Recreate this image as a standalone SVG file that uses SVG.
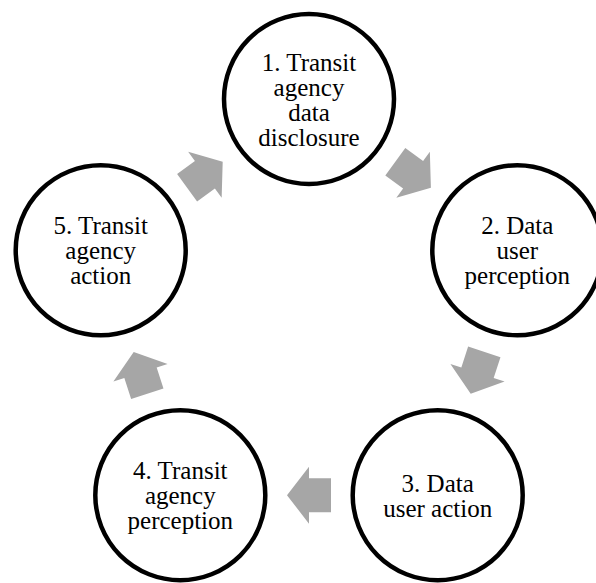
<svg xmlns="http://www.w3.org/2000/svg" width="596" height="583" viewBox="0 0 596 583">
  <style>
    .node circle { fill: #ffffff; stroke: #000000; stroke-width: 4.5; }
    .node text { font-family: "Liberation Serif", "Times New Roman", serif; font-size: 25px; fill: #000000; text-anchor: middle; }
    .arrow { fill: #A6A6A6; }
  </style>
  <defs>
    <polygon id="arr" points="-22,-17 0,-17 0,-28.5 22,0 0,28.5 0,17 -22,17"/>
  </defs>
  <rect x="0" y="0" width="596" height="583" fill="#ffffff"/>
  <g id="connectors">
    <use href="#arr" class="arrow" transform="translate(413.1,174.7) rotate(36)"/>
    <use href="#arr" class="arrow" transform="translate(477.5,372.8) rotate(108)"/>
    <use href="#arr" class="arrow" transform="translate(309,495.2) rotate(180)"/>
    <use href="#arr" class="arrow" transform="translate(140.5,372.8) rotate(252)"/>
    <use href="#arr" class="arrow" transform="translate(204.9,174.7) rotate(324)"/>
  </g>
  <g id="node1" class="node">
    <circle cx="309" cy="99" r="85"/>
    <text x="309" y="70.5">1. Transit</text>
    <text x="309" y="95.5">agency</text>
    <text x="309" y="120.5">data</text>
    <text x="309" y="145.5">disclosure</text>
  </g>
  <g id="node2" class="node">
    <circle cx="517.3" cy="250.3" r="85"/>
    <text x="517.3" y="234">2. Data</text>
    <text x="517.3" y="259">user</text>
    <text x="517.3" y="284">perception</text>
  </g>
  <g id="node3" class="node">
    <circle cx="437.7" cy="495.2" r="85"/>
    <text x="437.7" y="491.7">3. Data</text>
    <text x="437.7" y="516.7">user action</text>
  </g>
  <g id="node4" class="node">
    <circle cx="180.3" cy="495.2" r="85"/>
    <text x="180.3" y="479">4. Transit</text>
    <text x="180.3" y="504">agency</text>
    <text x="180.3" y="529">perception</text>
  </g>
  <g id="node5" class="node">
    <circle cx="100.7" cy="250.3" r="85"/>
    <text x="100.7" y="234">5. Transit</text>
    <text x="100.7" y="259">agency</text>
    <text x="100.7" y="284">action</text>
  </g>
</svg>
